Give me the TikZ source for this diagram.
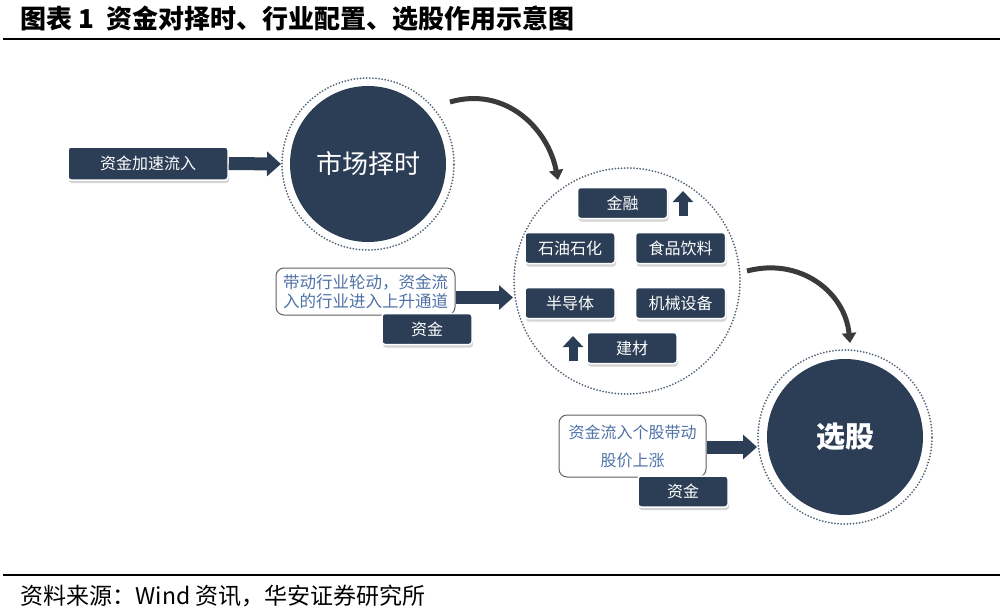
\documentclass[tikz,border=0pt]{standalone}
\usepackage{fontspec}
\setmainfont{Noto Sans CJK SC}
\usetikzlibrary{arrows.meta, shadows}
\definecolor{navy}{RGB}{44, 62, 86}
\definecolor{curvegray}{RGB}{58, 58, 58}
\definecolor{noteblue}{RGB}{79, 114, 168}

\begin{document}
\begin{tikzpicture}[x=1pt,y=-1pt,
		box/.style={draw=white,line width=1.5pt,fill=navy,rounded corners=3pt,text=white,
			minimum width=90pt,minimum height=31pt,inner sep=0pt,font=\fontsize{16}{16}\selectfont,
			drop shadow={shadow xshift=1pt,shadow yshift=-3pt,opacity=0.35}},
		note/.style={draw=gray!75!black,line width=1pt,fill=white,rounded corners=8pt,text=noteblue,
			align=center,inner sep=0pt},
		disc/.style={circle,fill=navy,text=white,minimum size=156pt,inner sep=0pt},
		ring/.style={circle,draw=navy!80,line width=2pt,dash pattern=on 0pt off 3.1pt,line cap=round,inner sep=0pt},
		blockarrow/.style={navy,line width=13pt,-{Triangle[length=14pt,width=24pt]}},
		uparrow/.style={navy,line width=9pt,-{Triangle[length=11pt,width=20pt]}},
		curvearrow/.style={curvegray,line width=5pt,-{Triangle[length=10pt,width=14pt]}}]
	\useasboundingbox (0,0) rectangle (1005,614);
	% title and source
	\node[anchor=west,font=\fontsize{26}{26}\selectfont\bfseries] (title) at (17,19) {图表 1\hspace{12pt}资金对择时、行业配置、选股作用示意图};
	\draw[line width=1.3pt] (3,39) -- (1000,39);
	\draw[line width=1.3pt] (3,575) -- (1000,575);
	\node[anchor=west,font=\fontsize{23}{23}\selectfont] (source) at (17,596) {资料来源：Wind 资讯，华安证券研究所};
	% circles
	\node[ring,minimum size=172pt] (timingring) at (368,164) {};
	\node[disc,font=\fontsize{26}{26}\selectfont] (timing) at (368,164) {市场择时};
	\node[ring,minimum size=226pt] (sectors) at (627,281) {};
	\node[ring,minimum size=174pt] (pickring) at (845,437) {};
	\node[disc,font=\fontsize{29}{29}\selectfont\bfseries] (pick) at (845,437) {选股};
	% market timing
	\node[box,minimum width=160pt,minimum height=33pt] (inflow) at (148,163.5) {资金加速流入};
	\draw[blockarrow] (inflow.east) -- (timingring.west);
	% sectors
	\node[box] (finance) at (622.5,203) {金融};
	\node[box] (petro) at (570,248) {石油石化};
	\node[box] (food) at (680.5,248) {食品饮料};
	\node[box] (semi) at (570,303) {半导体};
	\node[box] (machine) at (680.5,303) {机械设备};
	\node[box] (build) at (632,348) {建材};
	\draw[uparrow] (683,216) -- (683,191);
	\draw[uparrow] (573,361) -- (573,336);
	% rotation
	\node[note,minimum width=179pt,minimum height=47pt,font=\fontsize{16.5}{19}\selectfont] (rotation) at (365.5,291.5) {带动行业轮动，资金流\\入的行业进入上升通道};
	\node[box] (fund1) at (427,329) {资金};
	\draw[blockarrow] ([yshift=-6pt]rotation.east) -- ([yshift=-6pt]rotation.east -| sectors.west);
	% stock picking
	\node[note,minimum width=147pt,minimum height=62pt,font=\fontsize{16}{28}\selectfont] (picknote) at (632.5,446) {资金流入个股带动\\股价上涨};
	\node[box] (fund2) at (683,491.5) {资金};
	\draw[blockarrow] ([yshift=-1pt]picknote.east) -- ([yshift=-1pt]picknote.east -| pickring.west);
	% curved arrows
	\coordinate (c1s) at (450,102);
	\coordinate (c1e) at (558,180);
	\coordinate (c2s) at (747,271);
	\coordinate (c2e) at (850,343);
	\draw[curvearrow] (c1s) .. controls (505,86) and (548,128) .. (c1e);
	\draw[curvearrow] (c2s) .. controls (800,257) and (845,292) .. (c2e);
\end{tikzpicture}
\end{document}
